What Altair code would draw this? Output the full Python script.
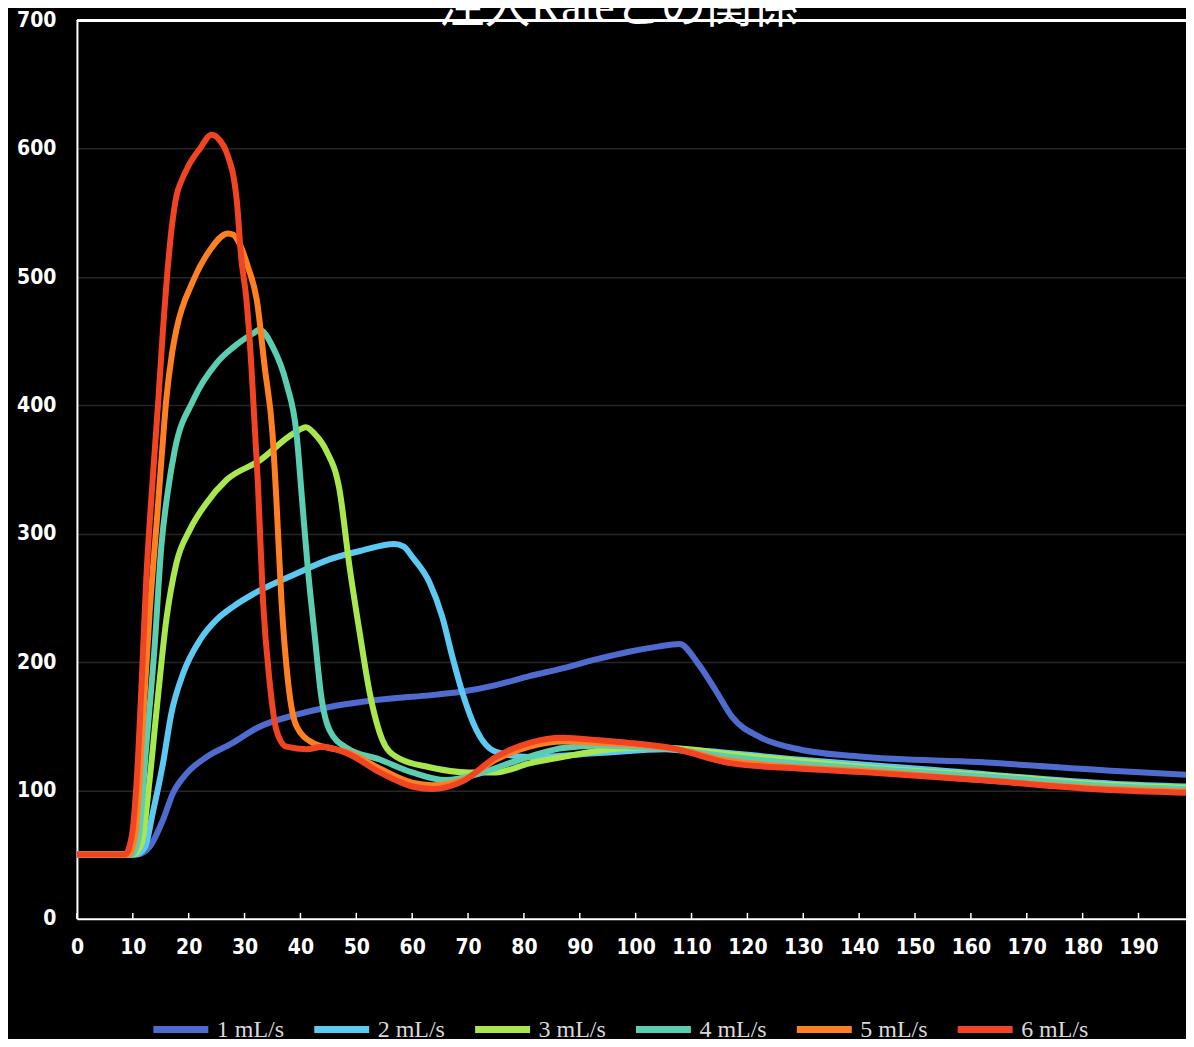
import altair as alt
import pandas as pd

title_text = "注入Rateとの関係"
series = ["1 mL/s", "2 mL/s", "3 mL/s", "4 mL/s", "5 mL/s", "6 mL/s"]
colors = ["#4F6BD0", "#5BC9F2", "#A8E84E", "#5BCDB0", "#FF8022", "#F04423"]

x_ticks = [0, 10, 20, 30, 40, 50, 60, 70, 80, 90, 100, 110, 120, 130, 140, 150, 160, 170, 180, 190]
y_ticks = [0, 100, 200, 300, 400, 500, 600, 700]

# 1 mL/s
t1 = [0, 10.7, 13.0, 15.4, 17.2, 19.6, 23.2, 27.9, 32.4, 39.3, 45.2, 51.1, 57.2, 63.1, 69.0, 75.0,
      81.0, 86.9, 92.9, 98.8, 104.0, 107.8, 111.3, 114.3, 117.3, 122.0, 129.2, 141.2, 161.4, 186.0, 199.0]
v1 = [50, 50, 56, 77, 98, 113, 126, 137, 149, 159, 165, 169, 172, 174, 177, 182,
      189, 195, 202, 208, 212, 214, 198, 178, 157, 142, 132, 126, 122, 115, 112]

# 2 mL/s
t2 = [0, 10.5, 12.2, 13.6, 15.4, 16.9, 19.0, 22.0, 25.0, 27.9, 32.4, 39.3, 45.2, 51.1, 56.8, 58.5,
      60.0, 63.1, 65.4, 67.2, 69.0, 71.5, 75.0, 81.0, 93.5, 105.4, 129.0, 153.0, 186.0, 199.0]
v2 = [50, 50, 56, 83, 121, 160, 191, 217, 233, 243, 255, 269, 280, 287, 292, 290,
      282, 262, 235, 204, 176, 147, 130, 126, 129, 132, 124, 116, 105, 103]

# 3 mL/s
t3 = [0, 10.0, 11.6, 13.0, 14.5, 16.0, 17.8, 20.2, 23.2, 26.8, 32.7, 38.7, 41.0, 42.5, 44.6, 47.0,
      48.8, 50.6, 52.4, 54.7, 57.2, 63.1, 70.2, 75.0, 81.0, 86.9, 98.8, 106.0, 117.0, 129.0, 141.0,
      165.0, 186.0, 199.0]
v3 = [50, 50, 59, 108, 173, 233, 277, 303, 324, 342, 357, 378, 383, 378, 365, 334,
      274, 223, 176, 139, 126, 118, 114, 114, 121, 126, 133, 133, 128, 123, 118,
      111, 104, 102]

# 4 mL/s
t4 = [0, 9.8, 11.0, 12.4, 13.9, 15.1, 16.3, 17.5, 20.8, 25.0, 27.9, 31.5, 32.7, 35.0, 37.5, 39.3,
      40.3, 41.3, 42.5, 43.8, 45.2, 48.3, 54.2, 60.0, 66.0, 72.0, 78.0, 87.0, 93.5, 98.8, 106.0,
      117.0, 129.0, 141.0, 165.0, 186.0, 199.0]
v4 = [50, 50, 62, 134, 212, 290, 334, 365, 404, 433, 445, 456, 459, 446, 417, 378,
      326, 274, 223, 171, 147, 133, 124, 114, 108, 113, 122, 133, 135, 134, 132,
      126, 121, 117, 110, 103, 101]

# 5 mL/s
t5 = [0, 9.2, 10.4, 11.9, 13.0, 14.4, 15.2, 16.0, 17.0, 17.8, 20.8, 23.8, 27.0, 28.0, 29.1, 30.6,
      32.2, 33.6, 35.0, 35.7, 36.6, 37.8, 39.3, 42.2, 45.2, 48.3, 54.2, 60.0, 63.6, 69.0, 75.0,
      81.0, 87.0, 93.5, 98.8, 106.0, 117.0, 129.0, 141.0, 165.0, 186.0, 199.0]
v5 = [50, 50, 64, 160, 238, 316, 362, 405, 440, 459, 497, 521, 534, 533, 526, 508,
      482, 430, 378, 326, 248, 184, 150, 137, 133, 130, 117, 106, 104, 108, 124,
      134, 138, 137, 136, 133, 123, 118, 115, 107, 101, 99]

# 6 mL/s
t6 = [0, 8.6, 9.8, 10.7, 11.6, 12.4, 13.6, 14.5, 15.4, 16.9, 17.8, 18.8, 20.0, 22.0, 24.1,
      25.5, 26.8, 28.6, 29.4, 30.3, 31.2, 31.8, 32.4, 33.3, 34.5, 35.7, 37.5, 41.1, 44.0, 48.3,
      54.2, 60.0, 63.6, 69.0, 75.0, 81.0, 86.9, 93.5, 98.8, 106.3, 117.2, 129.0, 141.2, 161.4,
      186.0, 199.0]
v6 = [50, 50, 64, 108, 186, 264, 345, 400, 459, 536, 563, 576, 587, 600, 611,
      607, 597, 560, 515, 484, 432, 385, 338, 248, 184, 147, 134, 132, 134, 129,
      114, 103, 101, 107, 126, 137, 141, 139, 137, 133, 121, 117, 114, 108,
      100, 98]

all_t = [t1, t2, t3, t4, t5, t6]
all_v = [v1, v2, v3, v4, v5, v6]

rows = []
for name, ts, vs in zip(series, all_t, all_v):
    for t, v in zip(ts, vs):
        rows.append({"series": name, "t": t, "v": v})
df = pd.DataFrame(rows)

x_scale = alt.Scale(domain=[0, 198.5], nice=False, zero=False)
y_scale = alt.Scale(domain=[0, 700], nice=False)

lines = alt.Chart(df).mark_line(
    strokeWidth=6, interpolate="monotone", clip=True, strokeCap="round", strokeJoin="round"
).encode(
    x=alt.X("t:Q", scale=x_scale, title=None,
            axis=alt.Axis(values=x_ticks, labelFlush=False, labelOverlap=False)),
    y=alt.Y("v:Q", scale=y_scale, title=None,
            axis=alt.Axis(values=y_ticks, labelOverlap=False)),
    color=alt.Color(
        "series:N",
        scale=alt.Scale(domain=series, range=colors),
        legend=alt.Legend(
            title=None, orient="none", direction="horizontal",
            legendX=73, legendY=979,
            symbolType="stroke", symbolSize=3025, symbolStrokeWidth=7, symbolOpacity=1,
            labelFont="Liberation Serif", labelFontSize=24, labelColor="#d9d9d9",
            labelOffset=5, columnPadding=15, labelLimit=200,
        ),
    ),
)

tick_df = pd.DataFrame({"t": x_ticks})
ticks = alt.Chart(tick_df).mark_rule(color="white", strokeWidth=1.5).encode(
    x=alt.X("t:Q", scale=x_scale, title=None),
    y=alt.datum(0),
    y2=alt.datum(4.5),
)

top = alt.Chart(tick_df).mark_rule(color="white", strokeWidth=2).encode(
    y=alt.datum(700),
)

title_df = pd.DataFrame({"label": [title_text]})
title = alt.Chart(title_df).mark_text(
    font="Liberation Serif, Noto Sans CJK JP", fontSize=46, color="white",
    align="center", baseline="alphabetic", dy=2,
).encode(
    x=alt.datum(96.9),
    y=alt.datum(700),
    text="label:N",
)

chart = alt.layer(ticks, top, lines, title).properties(
    width=1110,
    height=899,
    background="black",
    padding={"left": 69, "top": 12, "right": 0, "bottom": 120},
    autosize=alt.AutoSizeParams(type="none"),
).configure_view(
    stroke=None
).configure_axis(
    domainColor="white", domainWidth=2, ticks=False,
    labelColor="white", labelFont="DejaVu Sans Condensed, Liberation Sans Narrow, DejaVu Sans",
    labelFontSize=21, labelFontWeight="bold",
    gridColor="#262626", gridWidth=1.5,
).configure_axisX(
    grid=False, labelPadding=18
).configure_axisY(
    grid=True, labelPadding=21
)

chart.save("out.html", embed_options={"renderer": "svg", "actions": False})
